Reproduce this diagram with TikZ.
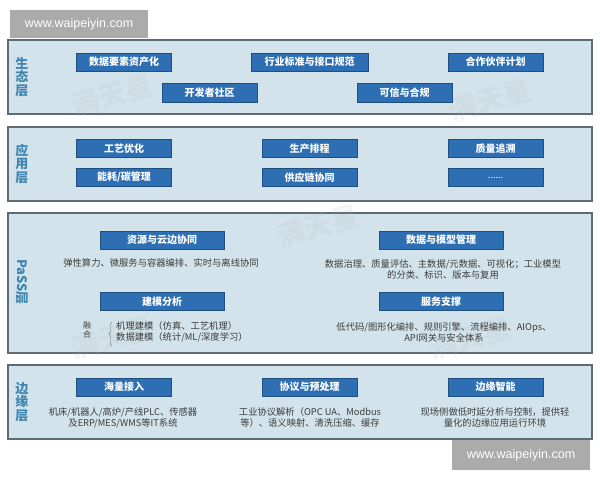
\documentclass[tikz,border=0pt]{standalone}
\usepackage{fontspec}
\setmainfont{Noto Sans CJK SC}
\newfontfamily\wmfont{Liberation Sans}
\usetikzlibrary{decorations.pathreplacing}
\definecolor{layerbg}{HTML}{D3E3EC}
\definecolor{layerln}{HTML}{5E6B73}
\definecolor{boxfill}{HTML}{2E6FB3}
\definecolor{boxline}{HTML}{1F4E80}
\definecolor{lbl}{HTML}{3F86B0}
\definecolor{bodytxt}{HTML}{3C3C3C}
\begin{document}
\begin{tikzpicture}[x=1pt,y=-1pt,
  layer/.style={draw=layerln, line width=1.2pt, fill=layerbg, minimum width=584pt, inner sep=0pt},
  blk/.style={draw=boxline, line width=0.8pt, fill=boxfill, text=white, font=\fontsize{10}{12}\selectfont\bfseries, minimum width=95pt, minimum height=18pt, inner sep=0pt},
  wblk/.style={blk, minimum width=124pt},
  lab/.style={text=lbl, font=\fontsize{13}{13.5}\selectfont\bfseries, align=center, inner sep=0pt},
  desc/.style={text=bodytxt, font=\fontsize{9.3}{11}\selectfont, align=center, inner sep=0pt},
  wm/.style={fill=black!33, text=white, font=\wmfont\fontsize{12.5}{14}\selectfont, inner sep=0pt, minimum width=138pt, minimum height=28pt},
  stamp/.style={text=black!30, font=\fontsize{28}{30}\selectfont\bfseries, rotate=15, opacity=0.14}
]
\useasboundingbox (0,0) rectangle (600,480);
\fill[white] (0,0) rectangle (600,480);

% layers
\node[layer, minimum height=74pt] (L1) at (300,77) {};
\node[layer, minimum height=74pt] (L2) at (300,164) {};
\node[layer, minimum height=140pt] (L3) at (300,283) {};
\node[layer, minimum height=74pt] (L4) at (300,402) {};

% faint stamps
\node[stamp] (s1) at (112,95) {满天星};
\node[stamp] (s2) at (490,100) {满天星};
\node[stamp] (s3) at (318,226) {满天星};
\node[stamp] (s4) at (112,338) {满天星};
\node[stamp] (s5) at (470,338) {满天星};

% layer labels
\node[lab] (t1) at (22,77) {生\\态\\层};
\node[lab] (t2) at (22,164) {应\\用\\层};
\node[lab, rotate=-90] (t3) at (22,282) {PaSS层};
\node[lab] (t4) at (22,402) {边\\缘\\层};

% layer 1
\node[blk] (a1) at (124,62) {数据要素资产化};
\node[blk, minimum width=117pt] (a2) at (309.5,62) {行业标准与接口规范};
\node[blk] (a3) at (495.5,62) {合作伙伴计划};
\node[blk, minimum height=19pt] (a4) at (209.5,92.5) {开发者社区};
\node[blk, minimum height=19pt] (a5) at (404.5,92.5) {可信与合规};

% layer 2
\node[blk] (b1) at (124,148.5) {工艺优化};
\node[blk] (b2) at (124,177.5) {能耗/碳管理};
\node[blk] (b3) at (309.5,148.5) {生产排程};
\node[blk] (b4) at (309.5,177.5) {供应链协同};
\node[blk] (b5) at (495.5,148.5) {质量追溯};
\node[blk, font=\fontsize{9}{12}\selectfont] (b6) at (495.5,177.5) {......};

% layer 3
\node[wblk] (c1) at (162,240) {资源与云边协同};
\node[desc] (c1t) at (161,263) {弹性算力、微服务与容器编排、实时与离线协同};
\node[wblk] (c2) at (162,301.5) {建模分析};
\node[desc, font=\fontsize{8}{9}\selectfont] (c2f) at (87,330) {融\\合};
\coordinate (brB) at (112,346);
\coordinate (brT) at (112,322);
\draw[bodytxt!70, decorate, decoration={brace, amplitude=3pt}] (brB) -- (brT);
\node[desc, align=left, anchor=west, font=\fontsize{9.3}{10.5}\selectfont] (c2t) at (116,332) {机理建模（仿真、工艺机理）\\数据建模（统计/ML/深度学习）};
\node[wblk] (c3) at (441,240) {数据与模型管理};
\node[desc] (c3t) at (443,269) {数据治理、质量评估、主数据/元数据、可视化；工业模型\\的分类、标识、版本与复用};
\node[wblk] (c4) at (441,301.5) {服务支撑};
\node[desc] (c4t) at (444,332.5) {低代码/图形化编排、规则引擎、流程编排、AIOps、\\API网关与安全体系};

% layer 4
\node[blk] (d1) at (124,387) {海量接入};
\node[desc] (d1t) at (123,417.5) {机床/机器人/高炉/产线PLC、传感器\\及ERP/MES/WMS等IT系统};
\node[blk] (d2) at (309.5,387) {协议与预处理};
\node[desc] (d2t) at (310,417.5) {工业协议解析（OPC UA、Modbus\\等）、语义映射、清洗压缩、缓存};
\node[blk] (d3) at (495.5,387) {边缘智能};
\node[desc] (d3t) at (495,417.5) {现场侧做低时延分析与控制，提供轻\\量化的边缘应用运行环境};

% watermarks
\node[wm] (w1) at (79,24) {www.waipeiyin.com};
\node[wm, minimum height=30pt] (w2) at (521,455) {www.waipeiyin.com};
\end{tikzpicture}
\end{document}
